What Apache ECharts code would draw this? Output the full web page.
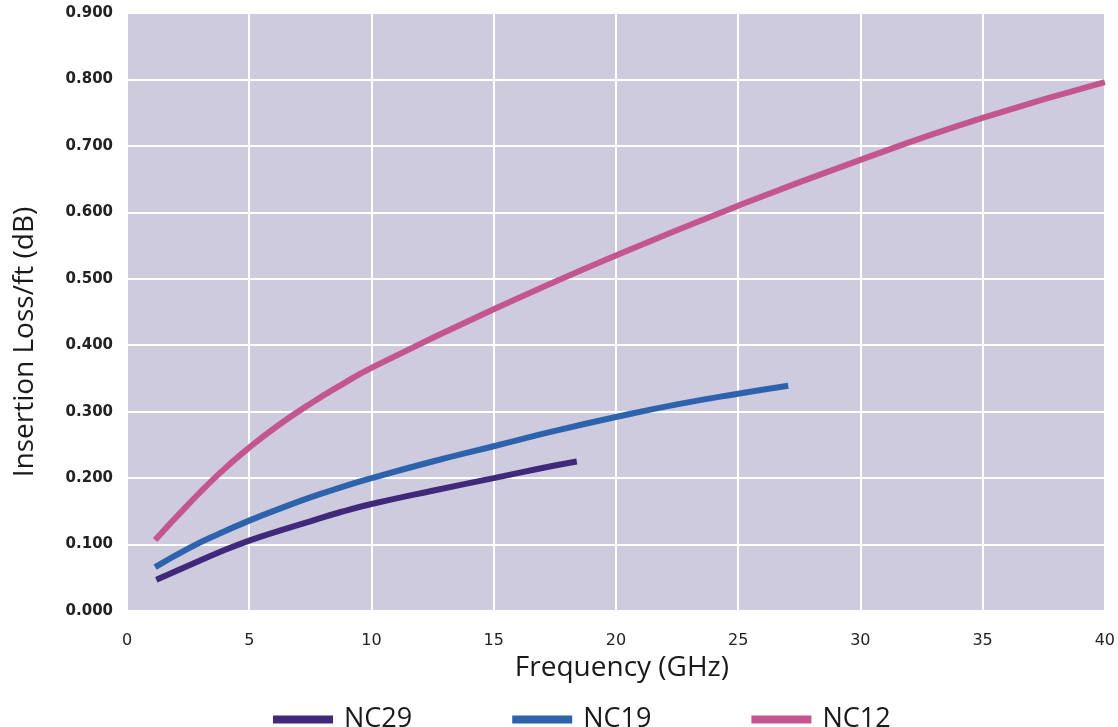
<!DOCTYPE html>
<html>
<head>
<meta charset="utf-8">
<script src="https://cdn.jsdelivr.net/npm/echarts@6/dist/echarts.min.js"></script>
<style>
  html, body { margin: 0; padding: 0; background: #fff; }
  #chart { width: 1118px; height: 727px; }
</style>
</head>
<body>
<div id="chart"></div>
<script>
// values (frequency GHz, loss dB/ft)
const nc29 = [[1.2, 0.047], [2.5, 0.068], [3.75, 0.088], [5, 0.106], [6.25, 0.121], [7.5, 0.135], [8.75, 0.149], [10, 0.161], [12.5, 0.181], [15, 0.200], [17.5, 0.219], [18.4, 0.225]];
const nc19 = [[1.15, 0.066], [2.5, 0.094], [3.75, 0.116], [5, 0.136], [6.25, 0.154], [7.5, 0.171], [8.75, 0.186], [10, 0.200], [12.5, 0.225], [15, 0.248], [17.5, 0.271], [20, 0.292], [22.5, 0.311], [25, 0.327], [27.05, 0.339]];
const nc12 = [[1.15, 0.107], [2.5, 0.160], [3.75, 0.206], [5, 0.246], [6.25, 0.281], [7.5, 0.312], [8.75, 0.340], [10, 0.366], [15, 0.454], [20, 0.535], [25, 0.610], [30, 0.679], [35, 0.742], [40, 0.796]];
const seriesNames = ['NC29', 'NC19', 'NC12'];
const colors = ['#40297a', '#2d63ad', '#c4568f'];

const chart = echarts.init(document.getElementById('chart'));
const font = '"Open Sans", "DejaVu Sans", sans-serif';
const tickFont = '"DejaVu Sans", sans-serif';

const option = {
  color: colors,
  animation: false,
  textStyle: { fontFamily: font },
  grid: {
    left: 127, right: 11, top: 13, bottom: 116,
    show: true, backgroundColor: '#cfcbdf', borderWidth: 0
  },
  legend: {
    data: seriesNames,
    left: 268, top: 701,
    icon: 'rect', itemWidth: 60, itemHeight: 8, itemGap: 100,
    textStyle: { fontSize: 27, color: '#1a1a1a', fontFamily: font, padding: [0, 0, 0, 6] }
  },
  xAxis: {
    type: 'value', min: 0, max: 40, interval: 5,
    name: 'Frequency (GHz)', nameLocation: 'middle', nameGap: 43,
    nameTextStyle: { fontSize: 28, color: '#1a1a1a', padding: [0, 0, 0, 12] },
    axisLine: { show: false }, axisTick: { show: false },
    axisLabel: { fontSize: 16, color: '#222', margin: 22, fontFamily: tickFont },
    splitLine: { lineStyle: { color: '#ffffff', width: 2 } }
  },
  yAxis: {
    type: 'value', min: 0, max: 0.9, interval: 0.1,
    name: 'Insertion Loss/ft (dB)', nameLocation: 'middle', nameGap: 88,
    nameTextStyle: { fontSize: 28, color: '#1a1a1a', padding: [0, 60, 0, 0] },
    axisLine: { show: false }, axisTick: { show: false },
    axisLabel: { fontSize: 15, fontWeight: 'bold', color: '#222', margin: 14, fontFamily: tickFont,
      formatter: v => v.toFixed(3) },
    splitLine: { lineStyle: { color: '#ffffff', width: 2 } }
  },
  series: [
    { name: 'NC29', type: 'line', data: nc29, smooth: true, showSymbol: false, lineStyle: { width: 6 } },
    { name: 'NC19', type: 'line', data: nc19, smooth: true, showSymbol: false, lineStyle: { width: 6 } },
    { name: 'NC12', type: 'line', data: nc12, smooth: true, showSymbol: false, lineStyle: { width: 6 } }
  ]
};
chart.setOption(option);
</script>
</body>
</html>
